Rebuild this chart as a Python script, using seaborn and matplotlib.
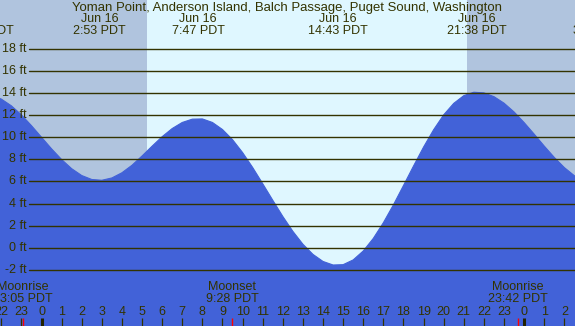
import numpy as np
import pandas as pd
import matplotlib
matplotlib.use("Agg")
import matplotlib.pyplot as plt
import matplotlib.transforms as mtransforms
import seaborn as sns

# ---- data (hours relative to Jun 16 00:00 PDT) ----
hours = list(np.arange(-2.5, 27.01, 0.5))
heights = [13.82, 13.47, 12.86, 12.04, 11.06, 10.01, 8.96, 7.99, 7.16, 6.54, 6.18, 6.11,
           6.32, 6.79, 7.47, 8.31, 9.2, 10.06, 10.8, 11.35, 11.65, 11.67, 11.35, 10.71,
           9.79, 8.62, 7.27, 5.8, 4.3, 2.83, 1.48, 0.31, -0.61, -1.25, -1.57, -1.54,
           -1.11, -0.3, 0.84, 2.26, 3.88, 5.63, 7.4, 9.12, 10.69, 12.04, 13.08, 13.78,
           14.09, 14.03, 13.69, 13.1, 12.3, 11.34, 10.29, 9.21, 8.18, 7.26, 6.52, 5.99]

extreme_times = [-2.867, 2.883, 7.783, 14.717, 21.633, 27.733]
# dates of the two off-edge extremes are not visible in the reference
extreme_dates = ["", "Jun 16", "Jun 16", "Jun 16", "Jun 16", ""]
extreme_labels = ["21:08 PDT", "2:53 PDT", "7:47 PDT", "14:43 PDT", "21:38 PDT", "3:44 PDT"]

sunrise = 5.23
sunset = 21.18

moon_times = [-0.917, 9.467, 23.7]
moon_events = ["Moonrise", "Moonset", "Moonrise"]
moon_labels = ["23:05 PDT", "9:28 PDT", "23:42 PDT"]

y_ticks = [-2, 0, 2, 4, 6, 8, 10, 12, 14, 16, 18]
hour_ticks = list(range(-2, 27))

title = "Yoman Point, Anderson Island, Balch Passage, Puget Sound, Washington"

# ---- style ----
DAY = "#DFF7FF"
NIGHT = "#B0C4DE"
WATER = "#4262D8"
INK = "#333300"
FONT = ["Liberation Sans", "DejaVu Sans"]
FS = 9

sns.set_style("white")
plt.rcParams["font.family"] = FONT

df = pd.DataFrame({"hour": hours, "height": heights})

fig = plt.figure(figsize=(5.75, 3.26), dpi=100)
ax = fig.add_axes([0, 0, 1, 1])
x0, x1 = -2.064, 26.53
y0, y1 = -7.10, 22.45
ax.set_xlim(x0, x1)
ax.set_ylim(y0, y1)
ax.axis("off")

# day / night
ax.axvspan(x0, x1, color=DAY, lw=0, zorder=0)
ax.axvspan(x0, sunrise, color=NIGHT, lw=0, zorder=0.5)
ax.axvspan(sunset, x1, color=NIGHT, lw=0, zorder=0.5)

# tide
sns.lineplot(data=df, x="hour", y="height", ax=ax, color=WATER, lw=0.8, zorder=2)
ax.fill_between(df["hour"], df["height"], y0 - 1, color=WATER, lw=0, zorder=2)

# grid lines and labels
for v in y_ticks:
    ax.axhline(v, xmin=29 / 575, xmax=1, color=INK, lw=1.0, zorder=3)
    ax.text(x0 + 26.5 / 20.11, v, f"{v} ft", ha="right", va="center",
            fontsize=FS, color=INK, zorder=4)

trans = mtransforms.blended_transform_factory(ax.transData, ax.transAxes)

# title and extremes
ax.text(0.5, 1 - 8 / 326, title, transform=ax.transAxes, ha="center", va="center",
        fontsize=9.45, color=INK, zorder=5)
for t, d, lab in zip(extreme_times, extreme_dates, extreme_labels):
    if d:
        ax.text(t, 1 - 19.5 / 326, d, transform=trans, ha="center", va="center",
                fontsize=FS, color=INK, zorder=5, clip_on=False)
    ax.text(t, 1 - 31.5 / 326, lab, transform=trans, ha="center", va="center",
            fontsize=FS, color=INK, zorder=5, clip_on=False)

# moon events
for t, ev, lab in zip(moon_times, moon_events, moon_labels):
    ax.text(t, 1 - 286.7 / 326, ev, transform=trans, ha="center", va="center",
            fontsize=FS, color=INK, zorder=5)
    ax.text(t, 1 - 299.3 / 326, lab, transform=trans, ha="center", va="center",
            fontsize=FS, color=INK, zorder=5)
    ax.plot([t, t], [0, 8 / 326], transform=trans, color="red", lw=1.0, zorder=5,
            solid_capstyle="butt")

# hour ticks
for h in hour_ticks:
    ax.text(h, 1 - 311.7 / 326, str(h % 24), transform=trans, ha="center", va="center",
            fontsize=FS, color=INK, zorder=5)
    bold = (h % 24 == 0)
    ax.plot([h, h], [0, 8.3 / 326], transform=trans, color="#222200" if bold else INK,
            lw=2.2 if bold else 0.9, zorder=5, solid_capstyle="butt")

fig.savefig("out.png", dpi=100)
